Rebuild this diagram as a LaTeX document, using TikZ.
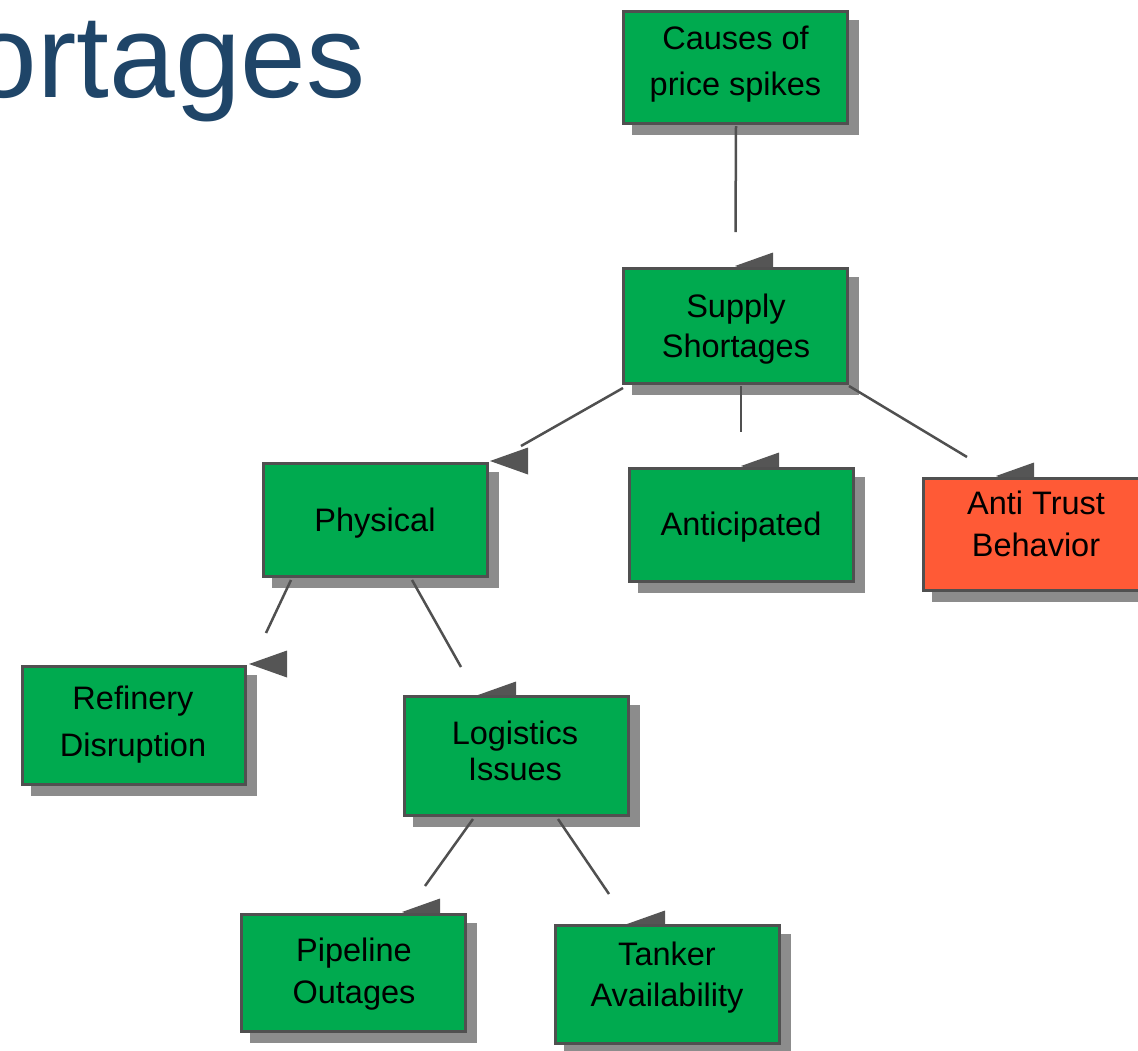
\documentclass[tikz,border=0pt]{standalone}
\usepackage{fontspec}
\setmainfont{Liberation Sans}
\usetikzlibrary{calc,shadows}
\definecolor{boxgreen}{RGB}{0,170,79}
\definecolor{boxred}{RGB}{255,90,54}
\definecolor{edgegray}{RGB}{80,80,80}
\definecolor{shadowgray}{RGB}{140,140,140}
\definecolor{linegray}{RGB}{80,80,80}
\definecolor{tipgray}{RGB}{85,85,85}
\definecolor{titleblue}{RGB}{31,69,104}
\begin{document}
\begin{tikzpicture}[x=1pt,y=-1pt,
  box/.style={draw=edgegray, line width=3pt, fill=boxgreen, inner sep=0pt,
    minimum width=224pt,
    general shadow={draw=shadowgray, fill=shadowgray, shadow xshift=10pt, shadow yshift=-10pt}},
  redbox/.style={box, fill=boxred},
  txt/.style={font=\fontsize{32.5}{#1}\selectfont, align=center, inner sep=0pt, text=black},
  conn/.style={draw=linegray, line width=2.5pt},
  tip/.style={fill=tipgray},
  titletext/.style={font=\fontsize{118}{118}\selectfont, text=titleblue, inner sep=0pt}]
\useasboundingbox (0,0) rectangle (1138,1050);
\clip (0,0) rectangle (1138,1050);

% title (cut off at the left edge)
\node[titletext, anchor=base east] (title) at (365.5,97) {ortages};

% free ends of connectors
\coordinate (e0) at (735.5,232);
\coordinate (e1) at (521,446);
\coordinate (e2) at (741,432);
\coordinate (e3) at (967,457);
\coordinate (e4) at (266,633);
\coordinate (e5) at (461,667);
\coordinate (e6) at (425,886);
\coordinate (e7) at (609,894);

% arrowheads (partly hidden behind the boxes)
\fill[tip] (735,266) -- ++(38,-13.5) -- ++(0,27) -- cycle;
\fill[tip] (490,461) -- ++(38,-13.5) -- ++(0,27) -- cycle;
\fill[tip] (741,466) -- ++(38,-13.5) -- ++(0,27) -- cycle;
\fill[tip] (996,476) -- ++(38,-13.5) -- ++(0,27) -- cycle;
\fill[tip] (249,664) -- ++(38,-13.5) -- ++(0,27) -- cycle;
\fill[tip] (478,695) -- ++(38,-13.5) -- ++(0,27) -- cycle;
\fill[tip] (402,912) -- ++(38,-13.5) -- ++(0,27) -- cycle;
\fill[tip] (627,924) -- ++(38,-13.5) -- ++(0,27) -- cycle;

% boxes
\node[box, minimum height=112pt] (causes) at (735.5,67.5) {};
\node[box, minimum height=115pt] (supply) at (735.5,326) {};
\node[box, minimum height=113pt] (physical) at (375.5,520) {};
\node[box, minimum height=113pt] (anticip) at (741.5,525) {};
\node[redbox, minimum height=112pt] (antitrust) at (1035.5,534.5) {};
\node[box, minimum width=223pt, minimum height=118pt] (refinery) at (134,725.5) {};
\node[box, minimum height=119pt] (logistics) at (516.5,756) {};
\node[box, minimum height=117pt] (pipeline) at (353.5,973) {};
\node[box, minimum height=118pt] (tanker) at (667.5,984.5) {};

% connectors
\draw[conn] ($(causes.south)+(0.5,1)$) -- (e0);
\draw[conn] ($(supply.south)+(-112.5,3)$) -- (e1);
\draw[conn] ($(supply.south)+(5.5,1)$) -- (e2);
\draw[conn] ($(supply.south east)+(0,1)$) -- (e3);
\draw[conn] ($(physical.south)+(-84.5,2)$) -- (e4);
\draw[conn] ($(physical.south)+(36.5,2)$) -- (e5);
\draw[conn] ($(logistics.south)+(-43.5,2)$) -- (e6);
\draw[conn] ($(logistics.south)+(41.5,2)$) -- (e7);

% texts
\node[txt=46] (causesT) at (735.5,62.8) {Causes of\strut\\price spikes\strut};
\node[txt=40] (supplyT) at (736,329) {Supply\strut\\Shortages\strut};
\node[txt=40] (physicalT) at (375,523) {Physical\strut};
\node[txt=40] (anticipT) at (741,527) {Anticipated\strut};
\node[txt=41.7] (antitrustT) at (1036,527.5) {Anti Trust\strut\\Behavior\strut};
\node[txt=47.7] (refineryT) at (133,723.3) {Refinery\strut\\Disruption\strut};
\node[txt=35.7] (logisticsT) at (515,755) {Logistics\strut\\Issues\strut};
\node[txt=42] (pipelineT) at (354,973.6) {Pipeline\strut\\Outages\strut};
\node[txt=41] (tankerT) at (667,978) {Tanker\strut\\Availability\strut};
\end{tikzpicture}
\end{document}
